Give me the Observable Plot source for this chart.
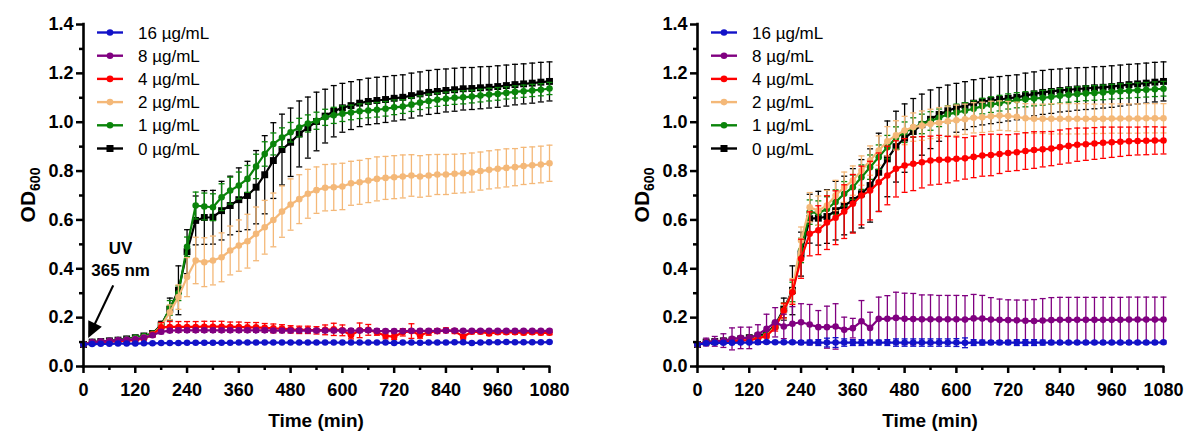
<!DOCTYPE html>
<html><head><meta charset="utf-8">
<script src="https://cdn.jsdelivr.net/npm/d3@7"></script>
<script src="https://cdn.jsdelivr.net/npm/@observablehq/plot@0.6"></script>
<style>
body{margin:0;background:#fff;}
#wrap{display:flex;width:1184px;height:432px;overflow:hidden;}
#wrap svg{flex:none;}
</style></head><body><div id="wrap"></div>
<script>
const times = [0,20,40,60,80,100,120,140,160,180,200,
220,240,260,280,300,320,340,360,380,400,420,
440,460,480,500,520,540,560,580,600,620,640,
660,680,700,720,740,760,780,800,820,840,860,
880,900,920,940,960,980,1000,1020,1040,1060,1080];
const concentrations = ["16 µg/mL","8 µg/mL","4 µg/mL","2 µg/mL","1 µg/mL","0 µg/mL"];
const colors = ["#1212c8","#800080","#ff0000","#f4b878","#0a840a","#000000"];
const yTicks = [0,0.2,0.4,0.6,0.8,1.0,1.2,1.4];
const yMinor = [0.1,0.3,0.5,0.7,0.9,1.1,1.3];
const xTicks = [0,120,240,360,480,600,720,840,960,1080];
const xMinor = [60,180,300,420,540,660,780,900,1020];
const yLabelMain = "OD", yLabelSub = "600", xLabel = "Time (min)";
const uvLines = [{t:86, v:0.483, s:"UV"},{t:86, v:0.393, s:"365 nm"}];
const uvArrow = {t1:70, v1:0.33, t2:12, v2:0.115};

// ---- Left panel ----
const L16 = [.090,.092,.093,.093,.094,.094,.094,.095,.095,.096,.096,
.096,.097,.097,.097,.097,.097,.097,.098,.098,.098,.098,
.098,.098,.098,.098,.098,.098,.098,.098,.098,.098,.098,
.098,.098,.098,.096,.098,.098,.097,.098,.098,.098,.099,
.099,.096,.098,.099,.099,.100,.099,.099,.099,.099,.100];
const L16sd = [.002,.003,.003,.003,.003,.003,.003,.003,.003,.003,.003,
.003,.003,.003,.003,.003,.003,.003,.003,.003,.003,.003,
.003,.003,.003,.003,.003,.003,.003,.003,.003,.003,.003,
.003,.003,.003,.003,.003,.003,.003,.003,.003,.003,.003,
.003,.003,.003,.003,.003,.003,.003,.003,.003,.003,.003];
const L8 = [.090,.100,.103,.105,.108,.110,.112,.118,.128,.142,.147,
.148,.148,.148,.148,.148,.148,.148,.148,.148,.148,.148,
.147,.147,.147,.147,.147,.147,.147,.147,.147,.147,.147,
.148,.146,.145,.145,.145,.146,.146,.146,.146,.147,.147,
.146,.146,.146,.146,.146,.146,.146,.146,.146,.146,.146];
const L8sd = [.003,.005,.005,.005,.006,.006,.006,.006,.007,.008,.008,
.008,.008,.008,.008,.008,.008,.008,.008,.008,.008,.008,
.008,.008,.008,.008,.008,.008,.008,.008,.008,.008,.008,
.008,.008,.007,.007,.007,.007,.007,.007,.007,.007,.007,
.006,.006,.006,.006,.006,.006,.006,.006,.006,.006,.006];
const L4 = [.090,.098,.100,.102,.104,.106,.108,.115,.130,.160,.162,
.162,.162,.162,.163,.163,.163,.162,.162,.160,.160,.158,
.156,.155,.152,.150,.150,.148,.150,.152,.148,.128,.148,
.150,.140,.125,.122,.140,.145,.128,.140,.145,.148,.145,
.122,.142,.142,.135,.140,.140,.140,.138,.140,.138,.138];
const L4sd = [.003,.004,.004,.004,.005,.005,.005,.006,.010,.020,.022,
.022,.022,.022,.022,.022,.022,.020,.020,.020,.020,.018,
.018,.016,.015,.015,.015,.015,.020,.025,.022,.015,.030,
.022,.012,.012,.012,.015,.030,.012,.012,.010,.010,.010,
.010,.008,.008,.008,.008,.008,.008,.008,.008,.008,.008];
const L2 = [.090,.098,.100,.103,.105,.108,.112,.118,.130,.165,.222,
.284,.366,.434,.427,.434,.447,.475,.495,.513,.543,.570,
.600,.634,.663,.685,.707,.722,.732,.734,.737,.750,.754,
.761,.768,.772,.775,.778,.782,.778,.782,.786,.786,.789,
.791,.794,.800,.805,.809,.813,.816,.821,.824,.827,.832];
const L2sd = [.002,.003,.003,.003,.003,.003,.004,.004,.006,.012,.030,
.050,.080,.095,.100,.100,.100,.100,.105,.110,.110,.110,
.110,.105,.105,.100,.100,.095,.095,.095,.095,.090,.090,
.090,.090,.088,.088,.088,.085,.085,.085,.082,.082,.080,
.080,.080,.078,.078,.078,.078,.076,.076,.075,.075,.074];
const L1 = [.090,.100,.102,.105,.108,.112,.118,.125,.135,.165,.240,
.300,.490,.659,.655,.652,.693,.720,.741,.768,.819,.870,
.911,.937,.959,.978,.995,1.006,1.020,1.028,1.035,1.040,1.045,
1.048,1.051,1.055,1.061,1.064,1.072,1.080,1.087,1.092,1.096,1.100,
1.102,1.105,1.109,1.113,1.116,1.120,1.124,1.127,1.130,1.133,1.138];
const L1sd = [.002,.003,.003,.003,.003,.004,.004,.004,.006,.012,.030,
.030,.040,.055,.055,.055,.055,.055,.055,.055,.050,.050,
.045,.040,.040,.038,.035,.035,.033,.033,.032,.030,.030,
.030,.030,.030,.030,.028,.028,.028,.028,.027,.027,.027,
.027,.026,.026,.026,.026,.025,.025,.025,.025,.025,.025];
const L0 = [.090,.100,.102,.105,.108,.113,.118,.125,.135,.170,.235,
.312,.470,.598,.610,.611,.638,.659,.683,.700,.734,.785,
.843,.888,.918,.952,.978,1.003,1.025,1.045,1.059,1.068,1.078,
1.085,1.089,1.093,1.098,1.102,1.109,1.116,1.122,1.126,1.130,1.133,
1.137,1.138,1.141,1.143,1.146,1.150,1.154,1.157,1.160,1.164,1.167];
const L0sd = [.002,.004,.004,.004,.005,.005,.005,.006,.008,.015,.045,
.100,.090,.100,.110,.110,.120,.120,.130,.140,.150,.160,
.155,.145,.140,.135,.125,.120,.110,.105,.100,.098,.096,
.095,.095,.094,.093,.092,.092,.090,.090,.090,.088,.088,
.087,.086,.086,.085,.085,.084,.083,.082,.082,.081,.080];

// ---- Right panel ----
const R16 = [.090,.095,.097,.097,.097,.098,.098,.099,.100,.099,.099,
.099,.098,.098,.098,.098,.098,.098,.098,.098,.098,.098,
.098,.098,.098,.098,.098,.098,.098,.098,.098,.097,.098,
.098,.098,.098,.098,.098,.098,.098,.098,.098,.098,.098,
.098,.098,.098,.098,.098,.098,.098,.098,.098,.098,.099];
const R16sd = [.003,.005,.004,.004,.004,.004,.004,.004,.005,.005,.005,
.006,.008,.010,.012,.018,.020,.015,.012,.012,.010,.010,
.012,.015,.015,.015,.015,.015,.015,.015,.016,.020,.012,
.010,.008,.008,.008,.012,.012,.012,.010,.008,.006,.006,
.006,.006,.006,.006,.006,.006,.006,.006,.006,.006,.006];
const R8 = [.090,.100,.103,.106,.113,.117,.117,.131,.154,.181,.164,
.175,.181,.172,.161,.161,.164,.150,.157,.185,.158,.195,
.195,.199,.195,.194,.193,.193,.193,.193,.193,.192,.197,
.196,.192,.191,.190,.189,.187,.186,.188,.190,.191,.191,
.191,.191,.191,.191,.191,.191,.192,.192,.192,.192,.192];
const R8sd = [.005,.016,.020,.028,.045,.044,.044,.040,.060,.060,.050,
.070,.076,.082,.068,.086,.093,.052,.040,.085,.064,.089,
.095,.105,.105,.105,.100,.100,.098,.098,.098,.098,.098,
.095,.090,.085,.083,.083,.085,.088,.090,.092,.092,.092,
.092,.092,.092,.092,.092,.092,.092,.092,.092,.092,.092];
const R4 = [.090,.098,.100,.102,.104,.106,.108,.115,.125,.160,.229,
.304,.441,.543,.558,.589,.609,.634,.666,.700,.720,.754,
.782,.809,.823,.830,.836,.843,.846,.847,.850,.852,.858,
.864,.866,.870,.874,.877,.882,.886,.889,.892,.898,.903,
.908,.910,.913,.916,.918,.920,.922,.923,.924,.925,.925];
const R4sd = [.002,.003,.003,.003,.004,.004,.004,.005,.008,.015,.030,
.050,.080,.090,.100,.110,.110,.110,.120,.120,.120,.120,
.120,.115,.110,.110,.105,.100,.100,.095,.090,.085,.085,
.085,.085,.080,.075,.075,.075,.075,.072,.070,.070,.070,
.068,.066,.065,.064,.062,.060,.058,.057,.057,.056,.055];
const R2 = [.090,.098,.100,.103,.105,.108,.110,.115,.125,.165,.225,
.310,.516,.652,.638,.659,.700,.734,.761,.802,.843,.884,
.922,.946,.966,.980,.986,.993,.998,1.004,1.008,1.012,1.018,
1.020,1.024,1.027,1.025,1.022,1.016,1.014,1.014,1.014,1.014,1.014,
1.014,1.014,1.014,1.014,1.015,1.015,1.015,1.015,1.016,1.016,1.016];
const R2sd = [.002,.003,.003,.003,.003,.003,.004,.004,.006,.012,.030,
.050,.055,.060,.060,.062,.062,.062,.060,.060,.060,.060,
.060,.060,.058,.058,.060,.060,.062,.062,.062,.062,.062,
.062,.062,.060,.060,.060,.060,.060,.060,.062,.062,.062,
.062,.062,.060,.060,.060,.060,.060,.060,.060,.060,.060];
const R1 = [.090,.100,.102,.105,.108,.111,.115,.120,.130,.165,.230,
.305,.475,.632,.628,.645,.673,.707,.734,.775,.816,.857,
.898,.936,.959,.978,.993,1.005,1.018,1.032,1.040,1.047,1.055,
1.066,1.072,1.078,1.085,1.090,1.094,1.097,1.100,1.104,1.108,1.112,
1.115,1.118,1.120,1.122,1.125,1.127,1.129,1.131,1.133,1.135,1.137];
const R1sd = [.002,.003,.003,.003,.003,.004,.004,.004,.006,.012,.030,
.040,.050,.050,.050,.050,.050,.050,.050,.050,.050,.050,
.048,.045,.042,.040,.040,.038,.036,.035,.034,.033,.033,
.032,.032,.032,.031,.031,.031,.030,.030,.030,.030,.030,
.030,.030,.030,.030,.030,.030,.030,.030,.030,.030,.030];
const R0 = [.090,.100,.102,.105,.108,.113,.118,.125,.135,.170,.235,
.312,.460,.605,.607,.614,.638,.659,.680,.707,.741,.795,
.850,.900,.935,.962,.990,1.012,1.032,1.047,1.059,1.068,1.078,
1.084,1.089,1.093,1.098,1.102,1.109,1.116,1.122,1.126,1.130,1.133,
1.136,1.138,1.141,1.143,1.146,1.150,1.154,1.157,1.160,1.164,1.167];
const R0sd = [.002,.004,.004,.004,.005,.005,.005,.006,.008,.015,.045,
.100,.090,.100,.110,.110,.120,.120,.130,.140,.150,.160,
.155,.145,.140,.135,.125,.120,.110,.105,.100,.098,.096,
.095,.095,.094,.093,.092,.092,.090,.090,.090,.088,.088,
.087,.086,.086,.085,.085,.084,.083,.082,.082,.081,.080];

const leftMeans = [L16,L8,L4,L2,L1,L0], leftSds = [L16sd,L8sd,L4sd,L2sd,L1sd,L0sd];
const rightMeans = [R16,R8,R4,R2,R1,R0], rightSds = [R16sd,R8sd,R4sd,R2sd,R1sd,R0sd];

const FONT = "'Liberation Sans', Arial, Helvetica, sans-serif";
const capSymbol = { draw(ctx, size) { const w = Math.sqrt(size / Math.PI); ctx.moveTo(-w, 0); ctx.lineTo(w, 0); } };

function panel(means, sds, ml, mr, withUV) {
  const W = 592, H = 432, MT = 24, MB = 66;
  const marks = [];
  const drawOrder = [5,4,3,2,1,0];
  for (const i of drawOrder) {
    const rows = times.map((t, j) => ({t, v: means[i][j], sd: sds[i][j]}));
    const c = colors[i];
    marks.push(Plot.ruleX(rows, {x: "t", y1: d => d.v - d.sd, y2: d => d.v + d.sd, stroke: c, strokeWidth: 1.3}));
    marks.push(Plot.dot(rows, {x: "t", y: d => d.v + d.sd, symbol: capSymbol, r: 3, stroke: c, fill: "none", strokeWidth: 1.3}));
    marks.push(Plot.dot(rows, {x: "t", y: d => d.v - d.sd, symbol: capSymbol, r: 3, stroke: c, fill: "none", strokeWidth: 1.3}));
    marks.push(Plot.line(rows, {x: "t", y: "v", stroke: c, strokeWidth: 2.2}));
    marks.push(Plot.dot(rows, {x: "t", y: "v", fill: c, stroke: "none", symbol: i === 5 ? "square" : "circle", r: i === 5 ? 3.9 : 3.3}));
  }
  // axes
  marks.push(Plot.axisY({ticks: yMinor, tickSize: 4, tickFormat: () => "", label: null, strokeWidth: 2.5}));
  marks.push(Plot.axisY({ticks: yTicks, tickSize: 7, tickPadding: 3, tickFormat: d3.format(".1f"), label: null, fontSize: 18, fontWeight: "bold", strokeWidth: 2.5}));
  marks.push(Plot.axisX({ticks: xMinor, tickSize: 4, tickFormat: () => "", label: null, strokeWidth: 2.5}));
  marks.push(Plot.axisX({ticks: xTicks, tickSize: 7, tickPadding: 10, tickFormat: d => String(d), label: null, fontSize: 18, fontWeight: "bold", strokeWidth: 2.5}));
  marks.push(Plot.ruleX([0], {y1: 0, y2: 1.4, strokeWidth: 2.6, strokeLinecap: "square"}));
  marks.push(Plot.ruleY([0], {x1: 0, x2: 1080, strokeWidth: 2.6, strokeLinecap: "square"}));
  if (withUV) {
    marks.push(Plot.text(uvLines, {x: "t", y: "v", text: "s", fontSize: 17, fontWeight: "bold", fill: "#000"}));
  }
  const chart = Plot.plot({
    width: W, height: H, marginLeft: ml, marginRight: mr, marginTop: MT, marginBottom: MB,
    x: {domain: [0, 1080], axis: null},
    y: {domain: [0, 1.4], axis: null},
    style: {fontFamily: FONT, fontSize: "18px", color: "#000", background: "#fff", overflow: "visible"},
    marks
  });
  const svg = d3.select(chart);
  const xs = chart.scale("x"), ys = chart.scale("y");
  // legend
  const lg = svg.append("g").attr("text-anchor", "start");
  concentrations.forEach((c, i) => {
    const y = 32.5 + i * 23.2;
    lg.append("line").attr("x1", ml + 14).attr("x2", ml + 40).attr("y1", y).attr("y2", y)
      .attr("stroke", colors[i]).attr("stroke-width", 2.4);
    if (i === 5) lg.append("rect").attr("x", ml + 27 - 3.5).attr("y", y - 3.5).attr("width", 7).attr("height", 7).attr("fill", colors[i]);
    else lg.append("circle").attr("cx", ml + 27).attr("cy", y).attr("r", 3.3).attr("fill", colors[i]);
    lg.append("text").attr("x", ml + 55).attr("y", y).attr("dy", "0.36em").attr("font-size", 17)
      .attr("text-anchor", "start").attr("font-family", FONT).attr("fill", "#000").text(c);
  });
  // y label
  const yl = svg.append("text").attr("transform", `translate(${ml - 48},${(MT + H - MB) / 2}) rotate(-90)`)
    .attr("text-anchor", "middle").attr("font-family", FONT).attr("font-weight", "bold").attr("font-size", 21).attr("fill", "#000");
  yl.append("tspan").text(yLabelMain);
  yl.append("tspan").attr("font-size", 14).attr("dy", 5).text(yLabelSub);
  // x label
  svg.append("text").attr("x", (ml + W - mr) / 2).attr("y", 427).attr("text-anchor", "middle")
    .attr("font-family", FONT).attr("font-weight", "bold").attr("font-size", 19).attr("fill", "#000").text(xLabel);
  if (withUV) {
    const x1 = xs.apply(uvArrow.t1), y1 = ys.apply(uvArrow.v1), x2 = xs.apply(uvArrow.t2), y2 = ys.apply(uvArrow.v2);
    const dx = x2 - x1, dy = y2 - y1, len = Math.hypot(dx, dy), ux = dx / len, uy = dy / len;
    const hl = 16, hw = 7.5;
    const bx = x2 - ux * hl, by = y2 - uy * hl;
    svg.append("line").attr("x1", x1).attr("y1", y1).attr("x2", bx + ux).attr("y2", by + uy).attr("stroke", "#000").attr("stroke-width", 2.2);
    svg.append("path").attr("d", `M${x2},${y2}L${bx - uy * hw},${by + ux * hw}L${bx + uy * hw},${by - ux * hw}Z`).attr("fill", "#000");
  }
  return chart;
}

const wrap = document.getElementById("wrap");
wrap.appendChild(panel(leftMeans, leftSds, 83, 43, true));
wrap.appendChild(panel(rightMeans, rightSds, 105, 21, false));
</script>
</body></html>
